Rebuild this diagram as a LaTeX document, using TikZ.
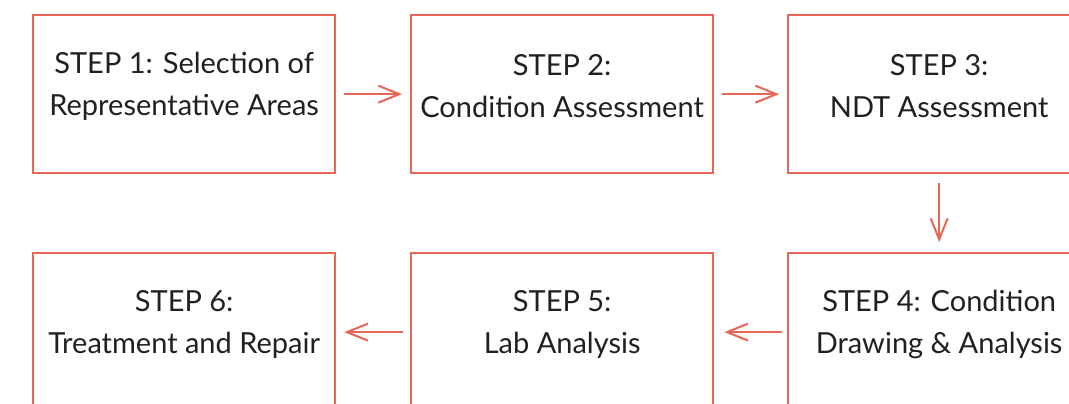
\documentclass[tikz,border=0pt]{standalone}
\usepackage{fontspec}
\setmainfont{Lato}
\usetikzlibrary{arrows.meta}
\definecolor{boxred}{RGB}{232,102,88}
\definecolor{txt}{RGB}{35,31,32}
\tikzset{
  stepbox/.style={draw=boxred, line width=2.3pt, minimum width=302pt, minimum height=158pt, inner sep=0pt, anchor=north west},
  steptext/.style={text=txt, align=center, font=\fontsize{29}{42}\selectfont, inner sep=0pt},
  flow/.style={draw=boxred, line width=2pt, -{Straight Barb[length=21pt,width=17pt,line width=2pt]}},
}
\begin{document}
\begin{tikzpicture}[x=1pt,y=-1pt]
\useasboundingbox (0,0) rectangle (1069,404);
\clip (0,0) rectangle (1069,404);
\node[stepbox] (b1) at (32,14) {};
\node[stepbox] (b2) at (410,14) {};
\node[stepbox] (b3) at (787,14) {};
\node[stepbox] (b4) at (787,252) {};
\node[stepbox] (b5) at (410,252) {};
\node[stepbox] (b6) at (32,252) {};
\node[steptext] (t1) at ([yshift=8pt]b1.center) {STEP 1: Selection of\\Representative Areas};
\node[steptext] (t2) at ([yshift=8pt]b2.center) {STEP 2:\\Condition Assessment};
\node[steptext] (t3) at ([yshift=8pt]b3.center) {STEP 3:\\NDT Assessment};
\node[steptext] (t4) at ([yshift=8pt]b4.center) {STEP 4: Condition\\Drawing \& Analysis};
\node[steptext] (t5) at ([yshift=8pt]b5.center) {STEP 5:\\Lab Analysis};
\node[steptext] (t6) at ([yshift=8pt]b6.center) {STEP 6:\\Treatment and Repair};
\draw[flow] ([xshift=8pt]b1.east) -- ([xshift=-8pt]b2.west);
\draw[flow] ([xshift=8pt]b2.east) -- ([xshift=-8pt]b3.west);
\draw[flow] ([yshift=-9pt]b3.south) -- ([yshift=10pt]b4.north);
\draw[flow] ([xshift=-5pt]b4.west) -- ([xshift=10pt]b5.east);
\draw[flow] ([xshift=-7pt]b5.west) -- ([xshift=8pt]b6.east);
\end{tikzpicture}
\end{document}
